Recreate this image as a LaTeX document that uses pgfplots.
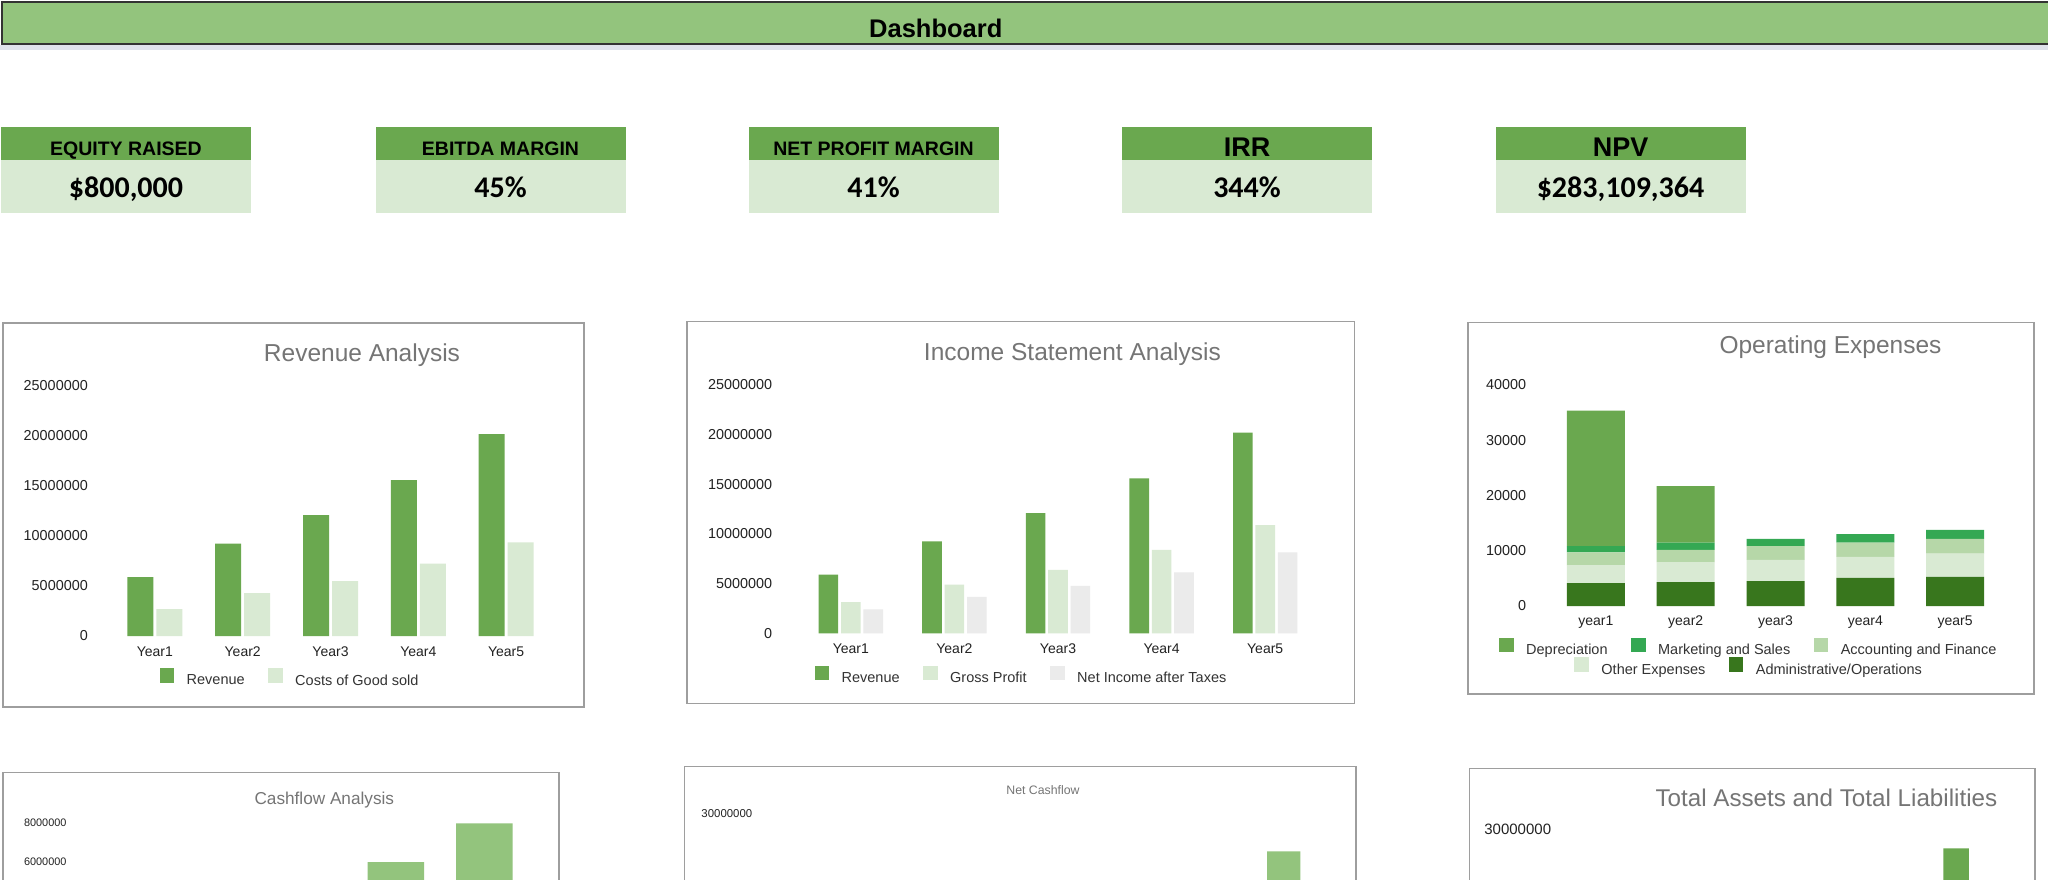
\documentclass[border=0pt]{standalone}
\usepackage{pgfplots}
\usepackage{pgfplotstable}
\pgfplotsset{compat=1.18}
\usepackage{fontspec}
\setmainfont{Liberation Sans}
\newfontfamily\calfont{Carlito}
\definecolor{gA}{HTML}{6AA84F}
\definecolor{gB}{HTML}{D9EAD3}
\definecolor{gC}{HTML}{93C47D}
\definecolor{gD}{HTML}{34A853}
\definecolor{gE}{HTML}{38761D}
\definecolor{gF}{HTML}{B6D7A8}
\definecolor{gG}{HTML}{EBEBEB}
\definecolor{titlec}{HTML}{757575}
\definecolor{tickc}{HTML}{222222}
\definecolor{legc}{HTML}{333333}
\definecolor{boxc}{HTML}{9E9E9E}
\definecolor{bandc}{HTML}{DFE3EB}

\pgfplotsset{
  /pgf/number format/assume math mode=true,
  sqlegend/.style={legend image code/.code={\fill[##1] (0pt,-2pt) rectangle (14.5pt,12.5pt);}},
  dashbase/.style={
    scale only axis,
    axis line style={draw=none},
    major tick length=0pt,
    xmin=-0.5, ymin=0,
    enlargelimits=false,
    scaled y ticks=false,
    tick label style={text=tickc},
    yticklabel style={/pgf/number format/fixed,/pgf/number format/1000 sep={},anchor=east,inner sep=0pt,font=\fontsize{14.4pt}{16pt}\selectfont},
    xticklabel style={anchor=base,inner sep=0pt,font=\fontsize{14pt}{16pt}\selectfont},
    legend style={draw=none,fill=none,legend columns=-1,inner sep=0pt,
      font=\fontsize{14.5pt}{17pt}\selectfont,text=legc,
      /tikz/every even column/.append style={column sep=21.5pt},
      /tikz/every odd column/.append style={column sep=10.5pt}},
    sqlegend,
  }
}

\pgfplotstableread{
x rev cogs
0 5900000 2700000
1 9250000 4300000
2 12100000 5500000
3 15600000 7230000
4 20200000 9370000
}\revtable

\pgfplotstableread{
x rev gp ni
0 5900000 3150000 2420000
1 9250000 4900000 3660000
2 12100000 6380000 4770000
3 15600000 8390000 6140000
4 20200000 10880000 8160000
}\inctable

\pgfplotstableread{
x admin other acc mkt dep
0 4160 3260 2290 1150 24490
1 4340 3620 2180 1320 10260
2 4520 3810 2530 1270 0
3 5070 3800 2590 1570 0
4 5250 4220 2660 1630 0
}\opextable

\pgfplotstableread{
x cf
0 2300000
1 3600000
2 4600000
3 6000000
4 7950000
}\cftable

\pgfplotstableread{
x ncf
0 1500000
1 3700000
2 6200000
3 8900000
4 11500000
5 14200000
6 16900000
7 19000000
8 21300000
9 25800000
}\ncftable

\pgfplotstableread{
x assets liab
0 6500000 1200000
1 10800000 1000000
2 15500000 800000
3 21000000 600000
4 27700000 400000
}\astable

\newcommand{\kpi}[5]{%
  \fill[gA] ({#1pt-125pt},-126.7pt) rectangle ({#1pt+125pt},-160pt);
  \fill[gB] ({#1pt-125pt},-160pt) rectangle ({#1pt+125pt},-212.5pt);
  \node[anchor=base,inner sep=0pt,font=\bfseries\fontsize{#3pt}{#3pt}\selectfont] at (#1pt,-#4pt) {#2};
  \node[anchor=base,inner sep=0pt,font=\calfont\bfseries\fontsize{30pt}{32pt}\selectfont] at (#1pt,-197.3pt) {#5};
}

\begin{document}
\begin{tikzpicture}
\path[use as bounding box] (0,0) rectangle (2048pt,-880pt);
\clip (0,0) rectangle (2048pt,-880pt);
\fill[white] (0,0) rectangle (2048pt,-880pt);

% banner
\fill[bandc] (0,-45pt) rectangle (2048pt,-50pt);
\draw[fill=gC,draw=black!80,line width=2pt] (1.5pt,-2.5pt) rectangle (2060pt,-44.5pt);
\node[anchor=base,inner sep=0pt,font=\bfseries\fontsize{25.5pt}{30pt}\selectfont] at (935.8pt,-37.3pt) {Dashboard};

% KPI tiles
\kpi{126}{EQUITY RAISED}{19.5}{156}{\$800,000}
\kpi{500.5}{EBITDA MARGIN}{19.5}{156}{45\%}
\kpi{873.5}{NET PROFIT MARGIN}{19.5}{156}{41\%}
\kpi{1247}{IRR}{27}{156.5}{344\%}
\kpi{1620.5}{NPV}{27}{156.5}{\$283,109,364}

% chart frames
\draw[boxc,line width=1.5pt] (3pt,-323pt) rectangle (584pt,-707pt);
\draw[boxc,line width=1.5pt] (687pt,-321.7pt) rectangle (1354.4pt,-703.3pt);
\draw[boxc,line width=1.5pt] (1468pt,-322.7pt) rectangle (2034pt,-694pt);
\draw[boxc,line width=1.5pt] (3pt,-772.3pt) rectangle (559pt,-1200pt);
\draw[boxc,line width=1.5pt] (684.3pt,-766.7pt) rectangle (1356pt,-1200pt);
\draw[boxc,line width=1.5pt] (1469.5pt,-768.3pt) rectangle (2035pt,-1200pt);

% titles
\node[anchor=base,inner sep=0pt,text=titlec,font=\fontsize{24.5pt}{28pt}\selectfont] at (362pt,-361.5pt) {Revenue Analysis};
\node[anchor=base,inner sep=0pt,text=titlec,font=\fontsize{24.5pt}{28pt}\selectfont] at (1072.4pt,-360.2pt) {Income Statement Analysis};
\node[anchor=base,inner sep=0pt,text=titlec,font=\fontsize{24.5pt}{28pt}\selectfont] at (1830.5pt,-353.5pt) {Operating Expenses};
\node[anchor=base,inner sep=0pt,text=titlec,font=\fontsize{17.2pt}{20pt}\selectfont] at (324.3pt,-804.6pt) {Cashflow Analysis};
\node[anchor=base,inner sep=0pt,text=titlec,font=\fontsize{12.3pt}{14pt}\selectfont] at (1043pt,-794.5pt) {Net Cashflow};
\node[anchor=base,inner sep=0pt,text=titlec,font=\fontsize{24.2pt}{28pt}\selectfont] at (1826.4pt,-806.3pt) {Total Assets and Total Liabilities};

% Revenue Analysis
\begin{axis}[dashbase,at={(111pt,-636pt)},anchor=south west,width=439pt,height=250pt,
  xmax=4.5,ymax=25000000,ytick={0,5000000,10000000,15000000,20000000,25000000},
  xtick={0,1,2,3,4},xticklabels={Year1,Year2,Year3,Year4,Year5},
  ybar=3pt,bar width=26pt,
  yticklabel style={xshift=-23pt},xticklabel style={yshift=-20pt},
  legend style={at={(axis description cs:0.408,-0.17)},anchor=center}]
\addplot[fill=gA,draw=none,sqlegend] table[x=x,y=rev]{\revtable};
\addlegendentry{Revenue}
\addplot[fill=gB,draw=none,sqlegend] table[x=x,y=cogs]{\revtable};
\addlegendentry{Costs of Good sold}
\end{axis}

% Income Statement Analysis
\begin{axis}[dashbase,at={(799pt,-633.3pt)},anchor=south west,width=518pt,height=248.3pt,
  xmax=4.5,ymax=25000000,ytick={0,5000000,10000000,15000000,20000000,25000000},
  xtick={0,1,2,3,4},xticklabels={Year1,Year2,Year3,Year4,Year5},
  ybar=2.8pt,bar width=19.6pt,
  yticklabel style={xshift=-26.6pt},xticklabel style={yshift=-20.4pt},
  legend style={at={(axis description cs:0.4295,-0.172)},anchor=center}]
\addplot[fill=gA,draw=none,sqlegend] table[x=x,y=rev]{\inctable};
\addlegendentry{Revenue}
\addplot[fill=gB,draw=none,sqlegend] table[x=x,y=gp]{\inctable};
\addlegendentry{Gross Profit}
\addplot[fill=gG,draw=none,sqlegend] table[x=x,y=ni]{\inctable};
\addlegendentry{Net Income after Taxes}
\end{axis}

% Operating Expenses
\begin{axis}[dashbase,at={(1551pt,-606pt)},anchor=south west,width=449pt,height=221pt,
  xmax=4.5,ymax=40000,ytick={0,10000,20000,30000,40000},
  xtick={0,1,2,3,4},xticklabels={year1,year2,year3,year4,year5},
  ybar stacked,bar width=58pt,reverse legend,
  yticklabel style={xshift=-24.7pt},xticklabel style={yshift=-19pt},
  legend style={at={(axis description cs:0.4405,-0.191)},anchor=center}]
\addplot[fill=gE,draw=none,forget plot] table[x=x,y=admin]{\opextable};
\addplot[fill=gB,draw=none,forget plot] table[x=x,y=other]{\opextable};
\addplot[fill=gF,draw=none,sqlegend] table[x=x,y=acc]{\opextable};
\addlegendentry{Accounting and Finance}
\addplot[fill=gD,draw=none,sqlegend] table[x=x,y=mkt]{\opextable};
\addlegendentry{Marketing and Sales}
\addplot[fill=gA,draw=none,sqlegend] table[x=x,y=dep]{\opextable};
\addlegendentry{Depreciation}
\end{axis}
\begin{axis}[dashbase,hide axis,at={(1551pt,-606pt)},anchor=south west,width=449pt,height=221pt,
  xmax=4.5,ymax=40000,
  legend style={at={(axis description cs:0.4414,-0.279)},anchor=center}]
\addlegendimage{fill=gB,draw=none,sqlegend}
\addlegendentry{Other Expenses}
\addlegendimage{fill=gE,draw=none,sqlegend}
\addlegendentry{Administrative/Operations}
\end{axis}

% Cashflow Analysis
\begin{axis}[dashbase,at={(85.8pt,-981.1pt)},anchor=south west,width=443pt,height=158.8pt,
  xmax=4.5,ymax=8000000,ytick={6000000,8000000},xtick=\empty,
  ybar,bar width=56.5pt,
  yticklabel style={xshift=-19.1pt,font=\fontsize{10.9pt}{12pt}\selectfont}]
\addplot[fill=gC,draw=none] table[x=x,y=cf]{\cftable};
\end{axis}

% Net Cashflow
\begin{axis}[dashbase,at={(777.4pt,-1080.7pt)},anchor=south west,width=533pt,height=266.7pt,
  xmax=9.5,ymax=30000000,ytick={30000000},xtick=\empty,
  ybar,bar width=33.4pt,
  yticklabel style={xshift=-25pt,font=\fontsize{11.4pt}{13pt}\selectfont}]
\addplot[fill=gC,draw=none] table[x=x,y=ncf]{\ncftable};
\end{axis}

% Total Assets and Total Liabilities
\begin{axis}[dashbase,at={(1575.6pt,-1081pt)},anchor=south west,width=438.75pt,height=252pt,
  xmax=4.5,ymax=30000000,ytick={30000000},xtick=\empty,
  ybar=3pt,bar width=25.6pt,
  yticklabel style={xshift=-24.3pt,font=\fontsize{15pt}{17pt}\selectfont}]
\addplot[fill=gA,draw=none] table[x=x,y=assets]{\astable};
\addplot[fill=gB,draw=none] table[x=x,y=liab]{\astable};
\end{axis}
\end{tikzpicture}
\end{document}
